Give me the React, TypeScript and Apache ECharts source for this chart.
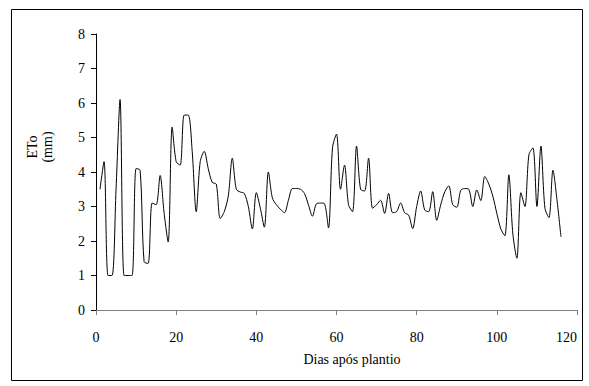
import React, { useEffect, useRef } from "react";
import * as echarts from "echarts";

const days: number[] = [
  1, 2, 3, 4, 5, 6, 7, 8, 9, 10, 11, 12, 13, 14, 15, 16, 17, 18, 19, 20,
  21, 22, 23, 24, 25, 26, 27, 28, 29, 30, 31, 32, 33, 34, 35, 36, 37, 38, 39, 40,
  41, 42, 43, 44, 45, 46, 47, 48, 49, 50, 51, 52, 53, 54, 55, 56, 57, 58, 59, 60,
  61, 62, 63, 64, 65, 66, 67, 68, 69, 70, 71, 72, 73, 74, 75, 76, 77, 78, 79, 80,
  81, 82, 83, 84, 85, 86, 87, 88, 89, 90, 91, 92, 93, 94, 95, 96, 97, 98, 99, 100,
  101, 102, 103, 104, 105, 106, 107, 108, 109, 110, 111, 112, 113, 114, 115, 116,
];

const eto: number[] = [
  3.5, 4.3, 1.0, 1.0, 3.5, 6.1, 1.0, 1.0, 1.0, 4.1,
  4.05, 1.4, 1.35, 3.1, 3.05, 3.9, 2.8, 1.97, 5.3, 4.3,
  4.2, 5.65, 5.65, 4.6, 2.85, 4.3, 4.6, 4.1, 3.7, 3.65,
  2.65, 2.85, 3.3, 4.4, 3.5, 3.42, 3.38, 3.0, 2.35, 3.4,
  2.95, 2.4, 4.0, 3.25, 3.05, 2.92, 2.82, 3.18, 3.52, 3.52,
  3.5, 3.38, 3.05, 2.72, 3.08, 3.1, 3.08, 2.38, 4.7, 5.1,
  3.5, 4.2, 3.05, 2.85, 4.75, 3.5, 3.45, 4.4, 2.95, 3.05,
  3.18, 2.8, 3.38, 2.82, 2.85, 3.1, 2.82, 2.75, 2.36, 3.0,
  3.45, 2.9, 2.85, 3.43, 2.6, 3.05, 3.42, 3.6, 3.05, 2.98,
  3.47, 3.52, 3.5, 3.0, 3.48, 3.17, 3.87, 3.65, 3.3, 2.8,
  2.35, 2.15, 3.92, 2.2, 1.5, 3.4, 3.0, 4.5, 4.7, 3.0,
  4.75, 2.95, 2.68, 4.05, 3.2, 2.12,
];

const xTitle = "Dias após plantio";
const yTitle = "ETo\n(mm)";

export default function App() {
  const ref = useRef<HTMLDivElement>(null);

  useEffect(() => {
    if (!ref.current) return;
    const chart = echarts.init(ref.current, undefined, { renderer: "svg" });
    const font = "Liberation Serif";
    chart.setOption({
      animation: false,
      backgroundColor: "#ffffff",
      textStyle: { fontFamily: font },
      grid: { left: 96, top: 34, width: 481, height: 276, containLabel: false },
      xAxis: {
        type: "value",
        min: 0,
        max: 120,
        interval: 20,
        axisLine: { show: true, onZero: false, lineStyle: { color: "#808080", width: 1 } },
        axisTick: { show: true, inside: false, length: 5, lineStyle: { color: "#808080" } },
        axisLabel: { color: "#000", fontFamily: font, fontSize: 14, margin: 20, alignMaxLabel: "right" },
        splitLine: { show: false },
      },
      yAxis: {
        type: "value",
        min: 0,
        max: 8,
        interval: 1,
        axisLine: { show: true, lineStyle: { color: "#000", width: 1 } },
        axisTick: { show: true, inside: false, length: 5, lineStyle: { color: "#000" } },
        axisLabel: { color: "#000", fontFamily: font, fontSize: 14, margin: 11 },
        splitLine: { show: false },
      },
      graphic: [
        {
          type: "rect",
          shape: { x: 11.5, y: 9.5, width: 571, height: 371 },
          style: { fill: "none", stroke: "#000", lineWidth: 1 },
          silent: true,
        },
        {
          type: "text",
          x: 352,
          y: 359,
          style: {
            text: xTitle,
            fontFamily: font,
            fontSize: 14,
            fill: "#000",
            textAlign: "center",
            textVerticalAlign: "middle",
          },
        },
        {
          type: "text",
          x: 40,
          y: 147,
          rotation: Math.PI / 2,
          style: {
            text: yTitle,
            fontFamily: font,
            fontSize: 14,
            lineHeight: 15,
            fill: "#000",
            textAlign: "center",
            textVerticalAlign: "middle",
          },
        },
      ],
      series: [
        {
          type: "line",
          data: days.map((d, i) => [d, eto[i]]),
          showSymbol: false,
          smooth: 0.3,
          lineStyle: { color: "#000", width: 1 },
          silent: true,
        },
      ],
    });
    return () => chart.dispose();
  }, []);

  return (
    <div
      ref={ref}
      style={{ position: "fixed", left: 0, top: 0, width: 589, height: 386, background: "#fff" }}
    />
  );
}
